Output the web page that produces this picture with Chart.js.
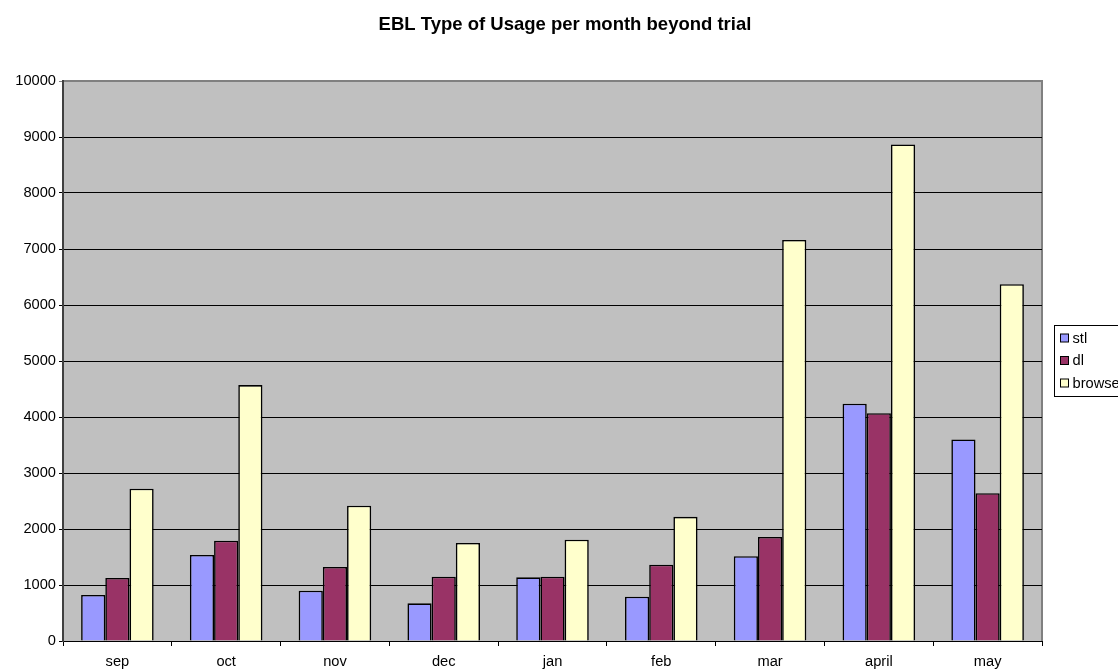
<!DOCTYPE html>
<html>
<head>
<meta charset="utf-8">
<script src="https://cdn.jsdelivr.net/npm/chart.js@4/dist/chart.umd.min.js"></script>
<style>
  html, body { margin: 0; padding: 0; background: #fff; overflow: hidden; }
  #wrap { position: relative; width: 1118px; height: 670px; }
</style>
</head>
<body>
<div id="wrap"><canvas id="c" width="1118" height="670"></canvas></div>
<script>
// Monthly usage by type
const months = ['sep', 'oct', 'nov', 'dec', 'jan', 'feb', 'mar', 'april', 'may'];
const stl    = [821, 1536, 898, 673, 1137, 790, 1513, 4238, 3599];
const dl     = [1125, 1791, 1321, 1149, 1149, 1362, 1857, 4069, 2640];
const browse = [2720, 4570, 2417, 1750, 1808, 2218, 7161, 8867, 6372];
const seriesNames = ['stl', 'dl', 'browse'];
const yMin = 0, yMax = 10000, yStep = 1000;
const chartTitle = 'EBL Type of Usage per month beyond trial';

const FONT = '"Liberation Sans", Arial, sans-serif';

// grey plot background and border
const plotFrame = {
  id: 'plotFrame',
  beforeDraw(chart) {
    const { ctx, chartArea: a } = chart;
    ctx.save();
    ctx.fillStyle = '#C0C0C0';
    ctx.fillRect(a.left, a.top, a.right - a.left, a.bottom - a.top);
    ctx.strokeStyle = '#808080';
    ctx.lineWidth = 2;
    ctx.beginPath();
    ctx.moveTo(a.left, a.top);
    ctx.lineTo(a.right, a.top);
    ctx.lineTo(a.right, a.bottom);
    ctx.stroke();
    ctx.restore();
  }
};

// centred bold heading over the whole figure
const heading = {
  id: 'heading',
  afterDraw(chart) {
    const { ctx } = chart;
    ctx.save();
    ctx.font = 'bold 18.5px ' + FONT;
    ctx.fillStyle = '#000';
    ctx.textAlign = 'center';
    ctx.textBaseline = 'middle';
    ctx.fillText(chartTitle, 565, 25);
    ctx.restore();
  }
};

// boxed legend at the right
const boxLegend = {
  id: 'boxLegend',
  afterDraw(chart) {
    const { ctx } = chart;
    const x = 1054.5, y = 325.5, w = 90, h = 71, step = 22.5;
    ctx.save();
    ctx.fillStyle = '#fff';
    ctx.fillRect(x, y, w, h);
    ctx.strokeStyle = '#000';
    ctx.lineWidth = 1;
    ctx.strokeRect(x, y, w, h);
    ctx.font = '14.67px ' + FONT;
    ctx.textBaseline = 'middle';
    chart.data.datasets.forEach((ds, i) => {
      const cy = y + 12.5 + i * step;
      ctx.fillStyle = ds.backgroundColor;
      ctx.fillRect(x + 6, cy - 4, 8, 8);
      ctx.strokeStyle = '#000';
      ctx.strokeRect(x + 6, cy - 4, 8, 8);
      ctx.fillStyle = '#000';
      ctx.fillText(ds.label, x + 18, cy + 0.5);
    });
    ctx.restore();
  }
};

const colors = ['#9999FF', '#993366', '#FFFFCC'];
const values = [stl, dl, browse];

new Chart(document.getElementById('c'), {
  type: 'bar',
  data: {
    labels: months,
    datasets: seriesNames.map((name, i) => ({
      label: name,
      data: values[i],
      backgroundColor: colors[i],
      borderColor: '#000',
      borderWidth: 1.6,
      categoryPercentage: 0.667,
      barPercentage: 1
    }))
  },
  options: {
    responsive: false,
    animation: false,
    events: [],
    layout: { padding: { left: 0, right: 76, top: 81, bottom: 0 } },
    plugins: {
      legend: { display: false },
      tooltip: { enabled: false },
      title: { display: false }
    },
    scales: {
      x: {
        offset: true,
        grid: {
          display: true,
          offset: true,
          drawOnChartArea: false,
          drawTicks: true,
          tickLength: 5,
          color: '#000'
        },
        border: { display: true, color: '#000', width: 1 },
        ticks: { color: '#000', font: { family: FONT, size: 14.67 }, padding: 7, maxRotation: 0 },
        afterFit(scale) { scale.height = 29; }
      },
      y: {
        min: yMin,
        max: yMax,
        ticks: {
          stepSize: yStep,
          color: '#000',
          font: { family: FONT, size: 14.67 },
          padding: 3,
          callback: (v) => String(v)
        },
        grid: {
          color: (c) => (c.tick && c.tick.value === yMax ? '#808080' : '#000'),
          lineWidth: 1,
          drawTicks: true,
          tickLength: 4
        },
        border: { display: true, color: '#404040', width: 2 },
        afterFit(scale) { scale.width = 63; }
      }
    }
  },
  plugins: [plotFrame, heading, boxLegend]
});
</script>
</body>
</html>
